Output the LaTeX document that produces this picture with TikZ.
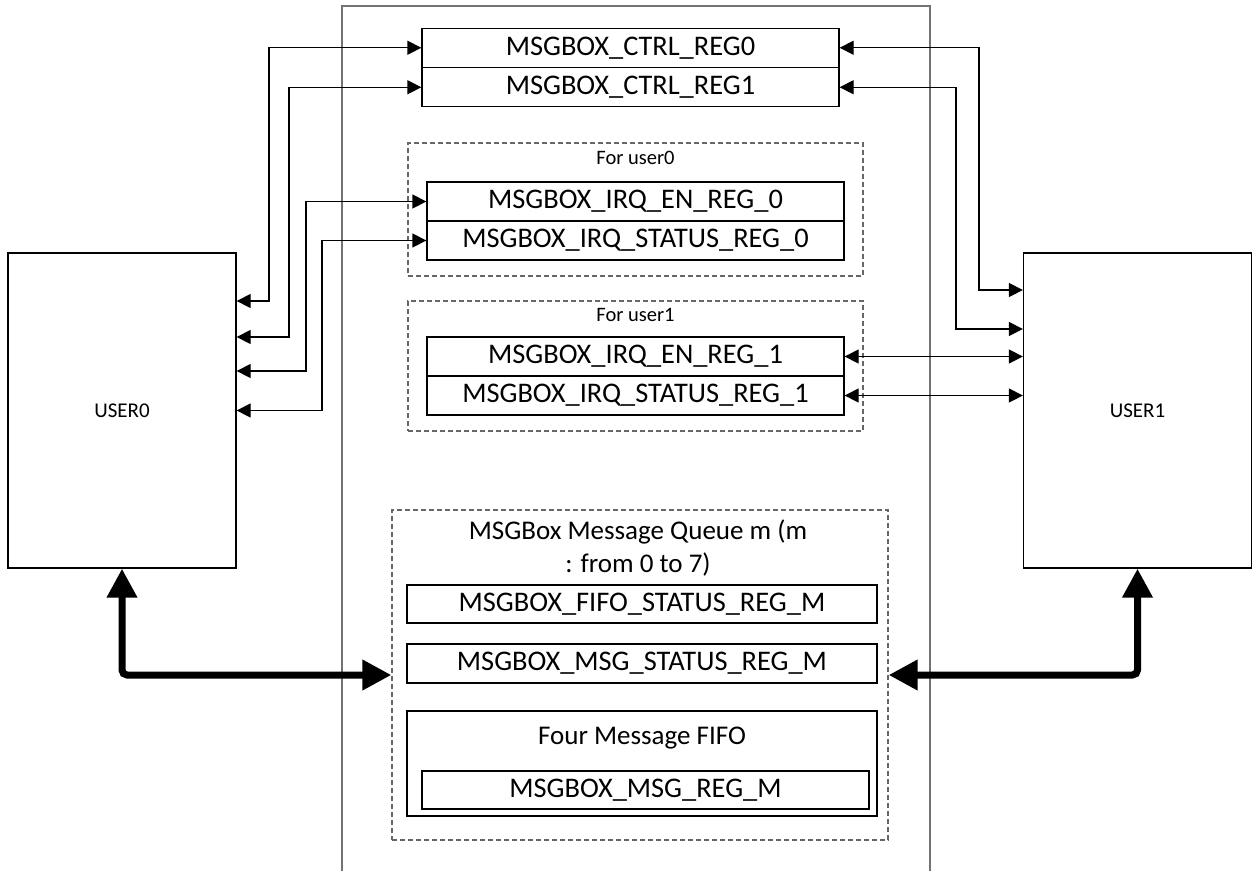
\documentclass[tikz,border=0pt]{standalone}
\usepackage{fontspec}
\setmainfont{Carlito}
\usetikzlibrary{arrows.meta}

\begin{document}
\begin{tikzpicture}[x=1pt, y=-1pt,
    cadre/.style={draw=black!55, line width=1.3pt},
    reg/.style={draw, line width=1.3pt, inner sep=0pt, minimum width=417pt, minimum height=39pt, font=\fontsize{28.4}{28.4}\selectfont},
    groupe/.style={draw=black!60, dash pattern=on 5pt off 3pt, line width=1.3pt, inner sep=0pt},
    usr/.style={draw, line width=1.3pt, minimum width=228pt, minimum height=315pt, font=\fontsize{21}{21}\selectfont},
    petit/.style={inner sep=0pt, font=\fontsize{20.5}{20.5}\selectfont},
    texte/.style={inner sep=0pt, font=\fontsize{27}{33}\selectfont},
    fil/.style={line width=1.3pt, {Triangle[length=14pt,width=14pt]}-{Triangle[length=14pt,width=14pt]}},
    gros/.style={line width=7pt, rounded corners=5pt, {Triangle[length=29pt,width=29pt]}-{Triangle[length=29pt,width=29pt]}}]
        \useasboundingbox (0,0) rectangle (1253,871);

        % cadre central (ouvert en bas)
        \draw[cadre] (342,871) -- (342,6) -- (930,6) -- (930,871);

        % registres de controle
        \node[reg] (ctrl0) at (630.5,47.75) {MSGBOX\_CTRL\_REG0};
        \node[reg] (ctrl1) at (630.5,87.25) {MSGBOX\_CTRL\_REG1};

        % groupe pour user0
        \node[groupe, minimum width=455pt, minimum height=133pt] (grp0) at (635.5,209.5) {};
        \node[petit] (lbl0) at (635.5,158) {For user0};
        \node[reg] (en0) at (635.5,201.5) {MSGBOX\_IRQ\_EN\_REG\_0};
        \node[reg] (st0) at (635.5,240.5) {MSGBOX\_IRQ\_STATUS\_REG\_0};

        % groupe pour user1
        \node[groupe, minimum width=455pt, minimum height=130pt] (grp1) at (635.5,366) {};
        \node[petit] (lbl1) at (635.5,315) {For user1};
        \node[reg] (en1) at (635.5,356.5) {MSGBOX\_IRQ\_EN\_REG\_1};
        \node[reg] (st1) at (635.5,395.5) {MSGBOX\_IRQ\_STATUS\_REG\_1};

        % file de messages m
        \node[groupe, minimum width=496pt, minimum height=330pt] (queue) at (640,675) {};
        \node[texte, align=center] (lblq) at (638,547.5) {MSGBox Message Queue m (m\\: from 0 to 7)};
        \node[reg, minimum width=470pt, minimum height=38pt] (fifost) at (642,604) {MSGBOX\_FIFO\_STATUS\_REG\_M};
        \node[reg, minimum width=470pt] (msgst) at (642,663.5) {MSGBOX\_MSG\_STATUS\_REG\_M};
        \node[reg, minimum width=470pt, minimum height=105pt] (fifo) at (642,763.5) {};
        \node[texte] (lblf) at (642,738) {Four Message FIFO};
        \node[reg, minimum width=447pt, minimum height=38pt] (msgreg) at (645.5,790) {MSGBOX\_MSG\_REG\_M};

        % les deux utilisateurs
        \node[usr] (user0) at (122,410.5) {USER0};
        \node[usr] (user1) at (1137.5,410.5) {USER1};

        % liaisons cote user0
        \foreach \r/\xv/\yv in {ctrl0/269/301, ctrl1/289/337, en0/306/371, st0/322/410.5} {
            \draw[fil] (\r.west) -| (\xv,\yv) -- (user0.east |- 0,\yv);
        }

        % liaisons cote user1
        \foreach \r/\xv/\yv in {ctrl0/979/290, ctrl1/956/329} {
            \draw[fil] (\r.east) -| (\xv,\yv) -- (user1.west |- 0,\yv);
        }
        \foreach \r in {en1, st1} {
            \draw[fil] (\r.east) -- (user1.west |- \r.east);
        }

        % bus vers la file
        \draw[gros] (user0.south) |- (queue.west);
        \draw[gros] (user1.south) |- (queue.east);
\end{tikzpicture}
\end{document}
